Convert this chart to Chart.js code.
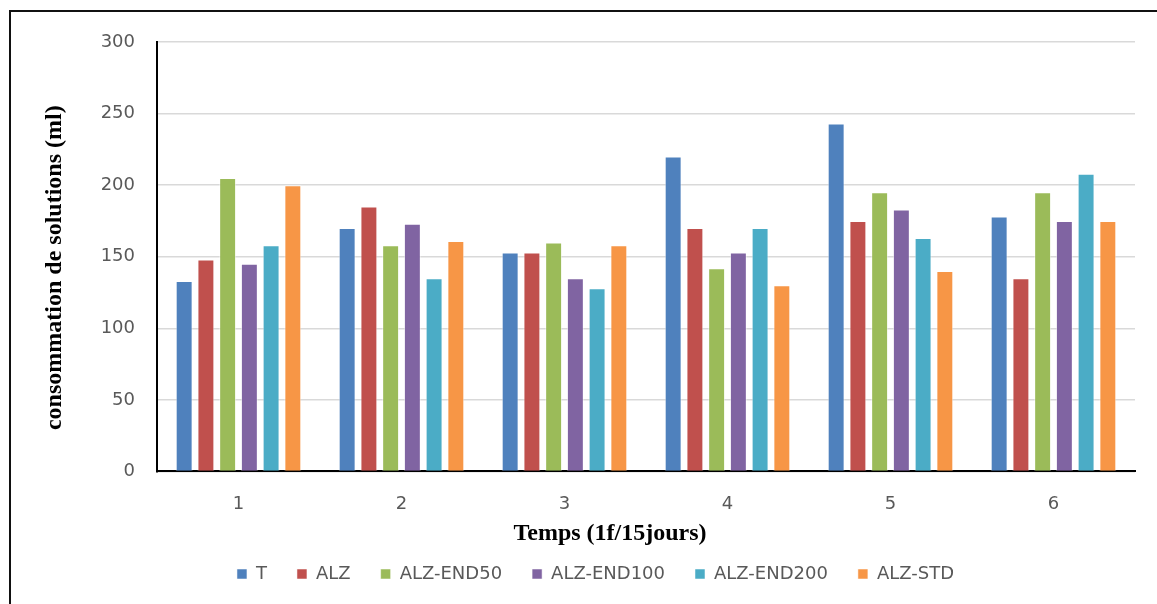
<!DOCTYPE html>
<html>
<head>
<meta charset="utf-8">
<script src="https://cdn.jsdelivr.net/npm/chart.js@4"></script>
<style>
  body { margin: 0; background: #fff; }
  #wrap { position: relative; width: 1157px; height: 604px; }
</style>
</head>
<body>
<div id="wrap"><canvas id="chart" width="1157" height="604"></canvas></div>
<script>
const periods = ["1", "2", "3", "4", "5", "6"];
const seriesNames = ["T", "ALZ", "ALZ-END50", "ALZ-END100", "ALZ-END200", "ALZ-STD"];
const seriesColors = ["#4F81BD", "#C0504D", "#9BBB59", "#8064A2", "#4BACC6", "#F79646"];

// consumption per period (ml)
const valuesT = [133, 170, 153, 220, 243, 178];
const valuesALZ = [148, 185, 153, 170, 175, 135];
const valuesEND50 = [205, 158, 160, 142, 195, 195];
const valuesEND100 = [145, 173, 135, 153, 183, 175];
const valuesEND200 = [158, 135, 128, 170, 163, 208];
const valuesSTD = [200, 161, 158, 130, 140, 175];

const yTicks = [0, 50, 100, 150, 200, 250, 300];
const yTitle = "consommation de solutions (ml)";
const xTitle = "Temps (1f/15jours)";

const allValues = [valuesT, valuesALZ, valuesEND50, valuesEND100, valuesEND200, valuesSTD];

const datasets = seriesNames.map((name, i) => ({
  label: name,
  data: allValues[i],
  backgroundColor: seriesColors[i],
  borderColor: "rgba(255,255,255,0.5)",
  borderWidth: 1,
  categoryPercentage: 0.8,
  barPercentage: 0.78,
}));

// frame lines on the left and top edges, plus both axis titles
const framePlugin = {
  id: "frame",
  beforeDraw(chart) {
    const ctx = chart.ctx;
    ctx.save();
    ctx.fillStyle = "#fff";
    ctx.fillRect(0, 0, chart.width, chart.height);
    ctx.fillStyle = "#111";
    ctx.fillRect(9, 10, 2, chart.height - 10);
    ctx.fillRect(9, 10, chart.width - 9, 2);
    ctx.restore();
  },
  afterDraw(chart) {
    const ctx = chart.ctx;
    const area = chart.chartArea;
    ctx.save();
    ctx.fillStyle = "#000";
    ctx.font = "bold 24px 'Liberation Serif'";
    ctx.textAlign = "center";
    ctx.textBaseline = "middle";
    ctx.fillText(xTitle, 610, area.bottom + 62);
    ctx.translate(55, (area.top + area.bottom) / 2 + 11);
    ctx.rotate(-Math.PI / 2);
    ctx.fillText(yTitle, 0, 0);
    ctx.restore();
  },
};

new Chart(document.getElementById("chart"), {
  type: "bar",
  data: { labels: periods, datasets: datasets },
  plugins: [framePlugin],
  options: {
    responsive: false,
    animation: false,
    layout: { padding: { left: 56, right: 22, top: 42, bottom: 11 } },
    plugins: {
      tooltip: { enabled: false },
      legend: {
        position: "bottom",
        labels: {
          boxWidth: 10,
          boxHeight: 10,
          padding: 30,
          color: "#595959",
          font: { family: "DejaVu Sans", size: 18 },
        },
      },
    },
    scales: {
      x: {
        grid: { display: false, drawTicks: false },
        border: { color: "#000", width: 2 },
        ticks: {
          color: "#595959",
          padding: 22,
          font: { family: "DejaVu Sans", size: 18 },
        },
        afterFit(scale) {
          // room for the title row below the tick labels
          scale.height -= 2;
        },
      },
      y: {
        min: 0,
        max: 300,
        afterBuildTicks(scale) {
          scale.ticks = yTicks.map((v) => ({ value: v }));
        },
        afterFit(scale) {
          scale.width = 101;
        },
        grid: { color: "#d9d9d9", lineWidth: 1.5, drawTicks: false },
        border: { color: "#000", width: 2 },
        ticks: {
          color: "#595959",
          padding: 22,
          font: { family: "DejaVu Sans", size: 18 },
        },
      },
    },
  },
});
</script>
</body>
</html>
